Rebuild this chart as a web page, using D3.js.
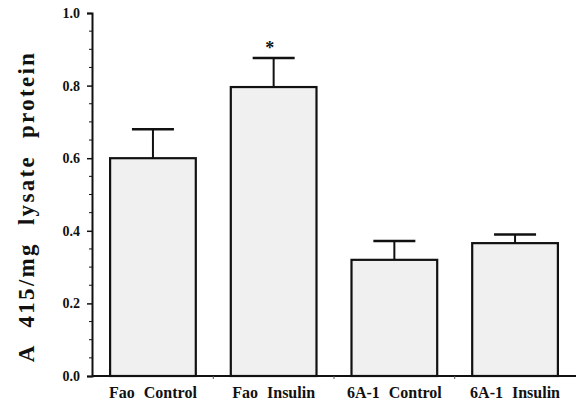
<!DOCTYPE html>
<html>
<head>
<meta charset="utf-8">
<script src="https://cdn.jsdelivr.net/npm/d3@7"></script>
<style>
  body { margin: 0; background: #fff; }
  svg text { font-family: "Liberation Serif", "DejaVu Serif", serif; font-weight: bold; fill: #111; }
</style>
</head>
<body>
<svg id="chart" width="576" height="407"></svg>
<script>
const categories = ["Fao Control", "Fao Insulin", "6A-1 Control", "6A-1 Insulin"];
const means = [0.60, 0.796, 0.32, 0.366];
const errors = [0.08, 0.08, 0.052, 0.024];
const significant = [false, true, false, false];
const yTicks = [0.0, 0.2, 0.4, 0.6, 0.8, 1.0];

const svg = d3.select("#chart");
const margin = { left: 92, right: 0, top: 13, bottom: 31 };
const width = 576, height = 407;

const x = d3.scaleBand()
  .domain(categories)
  .range([margin.left, width - margin.right])
  .paddingInner(0.29)
  .paddingOuter(0.15);

const y = d3.scaleLinear()
  .domain([0, 1])
  .range([height - margin.bottom, margin.top]);

// bars
svg.selectAll(".bar")
  .data(categories)
  .enter().append("rect")
  .attr("x", d => x(d))
  .attr("y", (d, i) => y(means[i]))
  .attr("width", x.bandwidth())
  .attr("height", (d, i) => y(0) - y(means[i]))
  .attr("fill", "#f0f0f0")
  .attr("stroke", "#111")
  .attr("stroke-width", 2.2);

// error bars (upper only)
const capHalf = 21;
categories.forEach((c, i) => {
  const cx = x(c) + x.bandwidth() / 2;
  svg.append("line")
    .attr("x1", cx).attr("x2", cx)
    .attr("y1", y(means[i])).attr("y2", y(means[i] + errors[i]))
    .attr("stroke", "#111").attr("stroke-width", 2);
  svg.append("line")
    .attr("x1", cx - capHalf).attr("x2", cx + capHalf)
    .attr("y1", y(means[i] + errors[i])).attr("y2", y(means[i] + errors[i]))
    .attr("stroke", "#111").attr("stroke-width", 2.5);
  if (significant[i]) {
    svg.append("text")
      .attr("x", cx - 4)
      .attr("y", y(means[i] + errors[i]) - 4)
      .attr("text-anchor", "middle")
      .attr("font-size", 18)
      .attr("font-family", "DejaVu Sans")
      .attr("fill", "#333")
      .text("*");
  }
});

// y axis
const yAxis = d3.axisLeft(y)
  .tickValues(yTicks)
  .tickFormat(d3.format(".1f"))
  .tickSize(5)
  .tickPadding(7);
const gy = svg.append("g")
  .attr("transform", `translate(${margin.left},0)`)
  .call(yAxis);
gy.select(".domain").attr("stroke", "#111").attr("stroke-width", 2);
gy.selectAll(".tick line").attr("stroke", "#111").attr("stroke-width", 1.5);
gy.selectAll(".tick text").attr("font-size", 14).attr("font-family", "Liberation Serif").attr("font-weight", "bold");

// minor ticks
svg.append("g")
  .selectAll("line")
  .data(d3.range(0.05, 1, 0.1).concat(d3.range(0.1, 1, 0.2)))
  .enter().append("line")
  .attr("x1", margin.left - 3).attr("x2", margin.left)
  .attr("y1", d => y(d)).attr("y2", d => y(d))
  .attr("stroke", "#111").attr("stroke-width", 1);

// x axis line
svg.append("line")
  .attr("x1", margin.left).attr("x2", width)
  .attr("y1", y(0)).attr("y2", y(0))
  .attr("stroke", "#111").attr("stroke-width", 2);

// small separators below axis between groups
const step = x.step();
categories.slice(1).forEach(c => {
  const sx = x(c) - (step - x.bandwidth()) / 2;
  svg.append("line")
    .attr("x1", sx).attr("x2", sx)
    .attr("y1", y(0)).attr("y2", y(0) + 3)
    .attr("stroke", "#555").attr("stroke-width", 1);
});

// x labels
svg.selectAll(".xlabel")
  .data(categories)
  .enter().append("text")
  .attr("x", d => x(d) + x.bandwidth() / 2)
  .attr("y", y(0) + 22)
  .attr("text-anchor", "middle")
  .attr("font-size", 16)
  .attr("word-spacing", 5)
  .text(d => d);

// y label
svg.append("text")
  .attr("transform", `translate(34,${(margin.top + y(0)) / 2 + 12}) rotate(-90)`)
  .attr("text-anchor", "middle")
  .attr("font-size", 23)
  .attr("letter-spacing", 2.3)
  .attr("word-spacing", 9)
  .text("A 415/mg lysate protein");
</script>
</body>
</html>
